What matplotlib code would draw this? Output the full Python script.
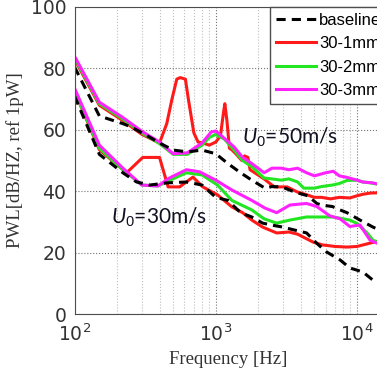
import numpy as np
import matplotlib
matplotlib.use('Agg')
import matplotlib.pyplot as plt

plt.rcParams['mathtext.fontset'] = 'custom'
plt.rcParams['mathtext.rm'] = 'Liberation Sans'
plt.rcParams['mathtext.it'] = 'Lato:italic'

# U0 = 50 m/s
f_b50 = [100, 150, 220, 250, 315, 400, 500, 630, 800, 1000, 1220, 1500, 1800, 2230, 2500, 2940, 3500, 4100, 4500, 5200, 5600, 6700, 7500, 8500, 10500, 13000, 15000]
L_b50 = [80.5, 64.5, 62, 61, 58.5, 55.7, 53.4, 52.8, 53.4, 52.2, 49, 46, 43.6, 41, 41.5, 41.4, 40, 39, 38.5, 36, 35.5, 35, 34, 33, 30.6, 28.3, 27]

f_r50 = [100, 150, 220, 300, 400, 450, 490, 530, 560, 610, 640, 700, 750, 810, 900, 1000, 1080, 1130, 1160, 1200, 1250, 1300, 1400, 1530, 1600, 1690, 1750, 1890, 2200, 2600, 3200, 3800, 4300, 5000, 5600, 6500, 7500, 8900, 10000, 11000, 12500, 15000]
L_r50 = [83, 68, 63, 58.5, 55.7, 62, 70, 76.5, 77, 76.5, 70, 59, 56, 55.7, 55, 56, 58, 65, 68.5, 63, 54, 53.5, 52, 50, 51.5, 51, 47, 46, 44, 41.4, 41.4, 39.7, 39, 38, 38, 37.5, 38, 37.8, 38.5, 39, 39.4, 39.5]

f_g50 = [100, 150, 220, 300, 400, 500, 630, 800, 900, 1000, 1150, 1350, 1550, 1800, 2200, 2500, 2900, 3300, 3800, 4200, 5000, 5600, 6700, 7500, 8500, 10000, 11000, 12500, 15000]
L_g50 = [83.5, 68.5, 63.5, 59, 55.5, 52, 52, 55, 57.5, 58.5, 57, 53.4, 50, 48, 44.3, 44, 43.6, 44, 43, 41, 41, 41.5, 42, 42.5, 43.5, 43.6, 43, 42.7, 42]

f_m50 = [100, 150, 220, 300, 400, 500, 630, 800, 930, 1000, 1100, 1350, 1550, 1800, 2200, 2500, 2900, 3300, 3800, 4400, 5000, 6000, 6800, 7500, 8500, 10000, 11000, 13000, 15000]
L_m50 = [84, 69, 64, 59.5, 56, 52.2, 52.5, 55.7, 59.3, 59.6, 58, 54.4, 51, 49, 46, 47.5, 47.5, 47, 47.5, 46, 45, 46, 46.5, 45, 44.5, 43.6, 43, 42.7, 42]

# U0 = 30 m/s
f_b30 = [100, 150, 220, 275, 340, 450, 620, 800, 1000, 1220, 1500, 1800, 2150, 2600, 3000, 3500, 4400, 5200, 6100, 7600, 8900, 11000, 13000, 15000]
L_b30 = [71, 52, 46, 43, 42, 42.7, 43, 42, 38, 37, 33, 31.6, 29.6, 28.8, 28.3, 27.5, 26.4, 23, 20.2, 17.6, 15, 13.7, 11, 9.5]

f_r30 = [100, 150, 234, 304, 400, 460, 555, 690, 810, 1030, 1300, 1550, 1800, 2150, 2700, 3300, 3800, 4900, 5700, 7000, 8500, 10000, 12400, 15000]
L_r30 = [72.5, 53.5, 46, 51, 51, 41.4, 41.4, 44.6, 41.4, 38.8, 34.9, 33, 30.6, 28.3, 26.4, 26.7, 26, 23.4, 22.5, 22, 21.8, 22, 23.1, 24]

f_g30 = [100, 150, 220, 300, 390, 470, 620, 800, 1030, 1300, 1800, 2200, 2700, 3350, 4400, 5200, 6800, 8900, 10000, 11800, 13000, 15000]
L_g30 = [72.5, 54, 47, 42, 41.7, 43.5, 46, 45.3, 42, 37, 33.9, 31, 29.6, 30.6, 31.6, 31.6, 31.6, 30.6, 29.5, 26.4, 24, 23]

f_m30 = [100, 150, 220, 300, 390, 470, 620, 770, 1000, 1300, 1800, 2230, 2700, 3350, 4400, 5200, 6400, 7600, 8900, 10500, 11800, 12400, 14000, 15000]
L_m30 = [73.6, 55, 47.5, 42, 41.7, 44.3, 47, 46.3, 43.6, 40.4, 37, 34.5, 33, 35.5, 36, 35, 32, 31, 28.5, 29, 25.5, 24, 23, 22.5]

labels = ['baseline', '30-1mm', '30-2mm', '30-3mm']
colors = ['k', '#ff1a1a', '#22e622', '#ff22ff']

fig = plt.figure(figsize=(3.77, 3.76), dpi=100)
ax = fig.add_axes([74.5/377, 62/376, (381-74.5)/377, 307/376])

lw = 2.2
dash = (0, (3, 2))
ax.plot(f_r50, L_r50, color=colors[1], lw=lw)
ax.plot(f_g50, L_g50, color=colors[2], lw=lw)
ax.plot(f_m50, L_m50, color=colors[3], lw=lw)
ax.plot(f_b50, L_b50, color=colors[0], lw=lw, ls=dash)
ax.plot(f_r30, L_r30, color=colors[1], lw=lw)
ax.plot(f_g30, L_g30, color=colors[2], lw=lw)
ax.plot(f_m30, L_m30, color=colors[3], lw=lw)
ax.plot(f_b30, L_b30, color=colors[0], lw=lw, ls=dash)

ax.set_xscale('log')
ax.set_xlim(100, 14800)
ax.set_ylim(0, 100)
ax.set_yticks([0, 20, 40, 60, 80, 100])

ax.grid(True, which='major', ls=':', color='0.45', lw=0.8)
ax.grid(True, which='minor', axis='x', ls=':', color='0.75', lw=0.8)
ax.tick_params(which='both', direction='in', length=0, labelsize=13.5, labelcolor='#333333')
ax.tick_params(axis='x', pad=7)
ax.tick_params(axis='y', pad=6)
for s in ax.spines.values():
    s.set_color('0.3')

ax.set_xlabel('Frequency [Hz]', family='Liberation Serif', fontsize=13.5, color='#333333', labelpad=4)
ax.set_ylabel('PWL[dB/HZ, ref 1pW]', family='Liberation Serif', fontsize=13.5, color='#333333', labelpad=5)

ax.text(3350, 57.7, r'$U_0$=50m/s', family='Lato', fontsize=15, ha='center', va='center', color='#111122')
ax.text(394, 31.6, r'$U_0$=30m/s', family='Lato', fontsize=15, ha='center', va='center', color='#111122')

handles = [plt.Line2D([], [], color=colors[0], lw=lw, ls=dash),
           plt.Line2D([], [], color=colors[1], lw=lw),
           plt.Line2D([], [], color=colors[2], lw=lw),
           plt.Line2D([], [], color=colors[3], lw=lw)]
leg = ax.legend(handles, labels, loc='upper left', bbox_to_anchor=(270/377, 1-7/376),
                bbox_transform=fig.transFigure, borderaxespad=0, fancybox=False,
                edgecolor='0.3', framealpha=1, handlelength=2.4,
                labelspacing=0.5, handletextpad=0.2, borderpad=0.35,
                prop={'family': 'Liberation Sans', 'size': 12})
leg.get_frame().set_linewidth(1.0)

fig.savefig('out.png', dpi=100)
